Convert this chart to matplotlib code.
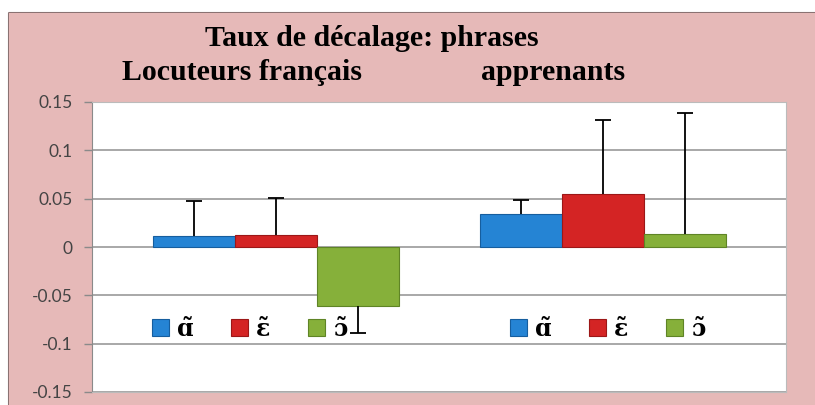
import matplotlib.pyplot as plt
from matplotlib.patches import Rectangle
from matplotlib.lines import Line2D

# Data
groups = ["Locuteurs français", "apprenants"]
vowels = ["ɑ̃", "ɛ̃", "ɔ̃"]
means = {
    "ɑ̃": [0.011, 0.034],
    "ɛ̃": [0.0125, 0.055],
    "ɔ̃": [-0.061, 0.0135],
}
errors = {
    "ɑ̃": [0.037, 0.015],
    "ɛ̃": [0.038, 0.076],
    "ɔ̃": [0.028, 0.125],
}
colors = ["#2584d4", "#d42424", "#86b03a"]
edges = ["#165e9e", "#9c1717", "#5f8426"]
yticks = [-0.15, -0.1, -0.05, 0, 0.05, 0.1, 0.15]
ytick_labels = ["-0.15", "-0.1", "-0.05", "0", "0.05", "0.1", "0.15"]

pink = "#e6b9b8"

fig = plt.figure(figsize=(8.15, 4.05), dpi=100)
fig.patch.set_facecolor("white")
# pink chart frame, border only on top and left
x0, y1 = 9 / 815, 1 - 13 / 405
fig.patches.append(Rectangle((x0, 0), 1 - x0, y1, transform=fig.transFigure,
                             facecolor=pink, edgecolor="none", zorder=-1))
fig.lines.append(Line2D([x0, x0, 1], [0, y1, y1], transform=fig.transFigure,
                        color="#8a7272", linewidth=1.5, zorder=-1))

ax = fig.add_axes([92 / 815, 1 - 392 / 405, (786 - 92) / 815, (392 - 102) / 405])
ax.set_zorder(2)
ax.set_facecolor("white")

width = 0.25
x = [0, 1]
bars = []
for i, v in enumerate(vowels):
    xs = [xi + (i - 1) * width for xi in x]
    b = ax.bar(xs, means[v], width, color=colors[i], edgecolor=edges[i],
               linewidth=0.8, zorder=3)
    bars.append(b)
    # one-sided error bars, pointing away from zero
    tips = [m + e if m >= 0 else m - e for m, e in zip(means[v], errors[v])]
    ax.vlines(xs, means[v], tips, color="black", linewidth=1.3, zorder=4)
    ax.plot(xs, tips, linestyle="none", marker="_", markersize=12,
            markeredgewidth=1.3, color="black", zorder=4)

ax.set_xlim(-0.563, 1.56)
ax.set_ylim(-0.15, 0.15)
ax.set_yticks(yticks)
ax.set_yticklabels(ytick_labels, fontsize=12.5, color="#444444", family="Lato")
ax.set_xticks([])
ax.yaxis.grid(True, color="#9a9a9a", linewidth=1.2, zorder=1)
ax.set_axisbelow(True)
ax.tick_params(axis="y", length=6, color="#8a8a8a", width=1, pad=8)
for s in ax.spines.values():
    s.set_color("#bbbbbb")
ax.spines["left"].set_color("#8a8a8a")

# Titles
tfont = dict(family="Liberation Serif", fontweight="bold", fontsize=21.5, color="black")
fig.text(372 / 815, 1 - 38 / 405, "Taux de décalage: phrases", ha="center", va="center", **tfont)
fig.text(242 / 815, 1 - 72 / 405, groups[0], ha="center", va="center", **tfont)
fig.text(553 / 815, 1 - 72 / 405, groups[1], ha="center", va="center", **tfont)

# Legends (one per group)
lfont = dict(family=["DejaVu Serif"], weight="bold", size=17)
legkw = dict(ncol=3, frameon=False, prop=lfont, loc="center left",
             borderpad=0, borderaxespad=0, handlelength=0.7, handleheight=0.7,
             handletextpad=0.35, columnspacing=1.6)
leg1 = ax.legend([b[0] for b in bars], vowels,
                 bbox_to_anchor=((152 - 92) / 694, (392 - 329) / 290), **legkw)
ax.add_artist(leg1)
ax.legend([b[0] for b in bars], vowels,
          bbox_to_anchor=((510 - 92) / 694, (392 - 329) / 290), **legkw)

fig.savefig("out.png", dpi=100, facecolor=fig.get_facecolor())
